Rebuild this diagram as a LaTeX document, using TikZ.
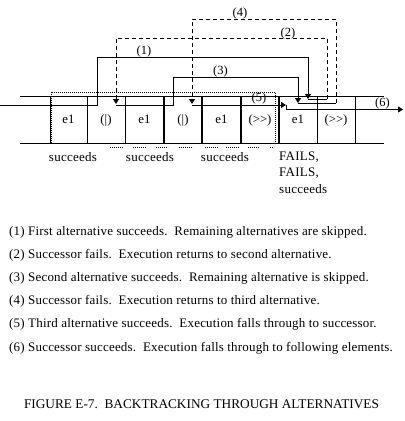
\documentclass[tikz,border=0pt]{standalone}
\usepackage{fontspec}
\setmainfont{Liberation Serif}
\usetikzlibrary{arrows.meta}
\frenchspacing
\begin{document}
\begin{tikzpicture}[x=1bp,y=-1bp,
  boxline/.style={line width=0.9bp},
  heavyline/.style={line width=1.9bp},
  flow/.style={line width=0.9bp},
  backflow/.style={line width=0.9bp, dash pattern=on 4bp off 3bp},
  dotline/.style={line width=0.8bp, dash pattern=on 0.8bp off 1.2bp},
  tip/.style={-{Triangle[width=6bp,length=5bp]}},
  lbl/.style={font=\fontsize{12.5bp}{14bp}\selectfont, inner sep=0pt},
  celltxt/.style={font=\fontsize{12.8bp}{14bp}\selectfont, inner sep=0pt, anchor=base},
  note/.style={font=\fontsize{13bp}{15bp}\selectfont\addfontfeatures{LetterSpace=2}, inner sep=0pt, anchor=base},
  expl/.style={font=\fontsize{13bp}{15bp}\selectfont\addfontfeatures{LetterSpace=1.5}, inner sep=0pt, anchor=base west},
  capt/.style={font=\fontsize{13.3bp}{15bp}\selectfont, inner sep=0pt, anchor=base}]
\useasboundingbox (0,0) rectangle (405,421);

% frame of the element row
\draw[boxline] (20,96) -- (384,96);
\draw[boxline] (20,143) -- (384,143);
\foreach \x in {50,87,125,317,355} \draw[boxline] (\x,96) -- (\x,143);
\foreach \x in {164,202,241,279} \draw[heavyline] (\x,96) -- (\x,143);

% dotted group of alternatives
\draw[dotline] (51,143) -- (51,92) -- (275,92) -- (275,143);
\foreach \a/\b in {110/123,133/146,156/168,179/193,205/218,226/239,248/259,270/274}
  \draw[dotline] (\a,147) -- (\b,147);

% cell texts
\node[celltxt] (c1) at (68.5,123.5) {e1};
\node[celltxt] (c2) at (106,123.5) {(|)};
\node[celltxt] (c3) at (144.5,123.5) {e1};
\node[celltxt] (c4) at (183,123.5) {(|)};
\node[celltxt] (c5) at (221.5,123.5) {e1};
\node[celltxt] (c6) at (260,123.5) {(>{}>)};
\node[celltxt] (c7) at (298,123.5) {e1};
\node[celltxt] (c8) at (336,123.5) {(>{}>)};

% named points of the connectors
\coordinate (in) at (0,105);
\coordinate (up1) at (97,57);
\coordinate (s1) at (308,99);
\coordinate (r2) at (327,99);
\coordinate (top2) at (116,38);
\coordinate (alt2) at (116,104);
\coordinate (alt2out) at (116,105);
\coordinate (up3) at (173,77);
\coordinate (s3) at (298,103);
\coordinate (r4) at (336,103);
\coordinate (top4) at (192,19);
\coordinate (alt3) at (192,104);
\coordinate (alt3out) at (192,105);
\coordinate (s5) at (286,105);
\coordinate (out) at (403,109.5);

% (1)
\draw[flow,tip] (in) -| (up1) -| (s1);
% (2)
\draw[flow] (s1) -- (r2);
\draw[backflow,tip] (r2) |- (top2) -- (alt2);
% (3)
\draw[flow,tip] (alt2out) -| (up3) -| (s3);
% (4)
\draw[flow] (s3) -- (r4);
\draw[backflow,tip] (r4) |- (top4) -- (alt3);
% (5)
\draw[flow,tip] (alt3out) -- (s5);
% (6)
\draw[flow,tip] (s5) |- (out);

% connector labels
\node[lbl] (l1) at (144,51.5) {(1)};
\node[lbl] (l2) at (288,33) {(2)};
\node[lbl] (l3) at (220.5,71) {(3)};
\node[lbl] (l4) at (240,13.8) {(4)};
\node[lbl] (l5) at (259,98.5) {(5)};
\node[lbl] (l6) at (382.5,103.5) {(6)};

% results under the row
\node[note] (r1) at (73,161) {succeeds};
\node[note] (r2t) at (150,161) {succeeds};
\node[note] (r3) at (225,161) {succeeds};
\node[note,anchor=base west] (f1) at (279,160) {FAILS,};
\node[note,anchor=base west] (f2) at (279,176.5) {FAILS,};
\node[note,anchor=base west] (f3) at (279,193) {succeeds};

% explanations
\node[expl] (e1) at (9,235) {(1) First alternative succeeds.~~Remaining alternatives are skipped.};
\node[expl] (e2) at (9,258.2) {(2) Successor fails.~~Execution returns to second alternative.};
\node[expl] (e3) at (9,281.4) {(3) Second alternative succeeds.~~Remaining alternative is skipped.};
\node[expl] (e4) at (9,304.6) {(4) Successor fails.~~Execution returns to third alternative.};
\node[expl] (e5) at (9,327.8) {(5) Third alternative succeeds.~~Execution falls through to successor.};
\node[expl] (e6) at (9,351) {(6) Successor succeeds.~~Execution falls through to following elements.};

\node[capt] (cap) at (201.5,408.3) {FIGURE E-7.~~BACKTRACKING THROUGH ALTERNATIVES};
\end{tikzpicture}
\end{document}
